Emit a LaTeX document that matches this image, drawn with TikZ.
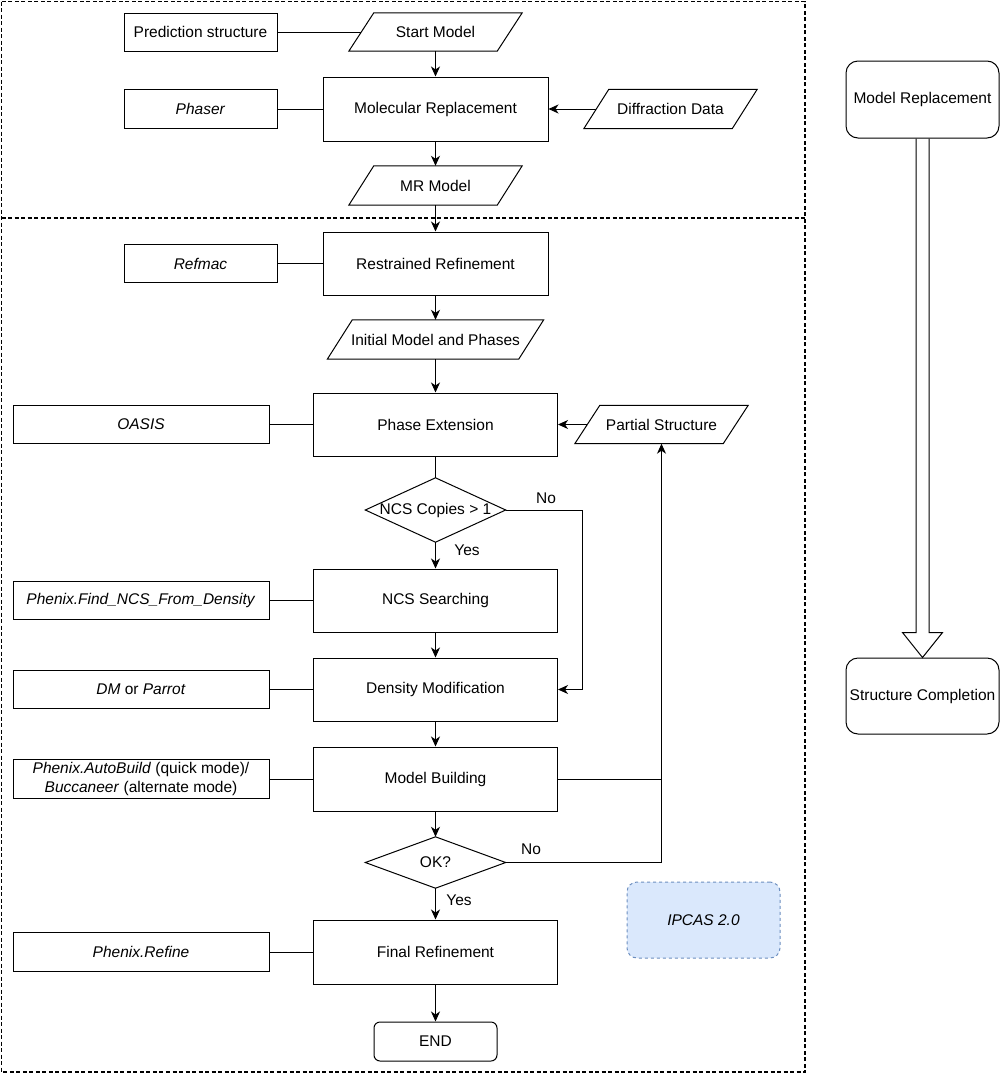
\documentclass[tikz,border=0pt]{standalone}
\usepackage{fontspec}
\setmainfont{Liberation Sans}
\usetikzlibrary{arrows.meta,calc}
\definecolor{ipfill}{HTML}{DAE8FC}
\definecolor{ipdraw}{HTML}{6C8EBF}
\begin{document}
\begin{tikzpicture}[x=1pt,y=-1pt,
  ln/.style={line width=1pt, draw=black},
  arr/.style={ln, -{Stealth[length=10pt,width=9pt,inset=3pt]}},
  txt/.style={font=\fontsize{15.5}{19}\selectfont, inner sep=0pt, align=center},
  box/.style={txt, draw, line width=1pt},
  tool/.style={box, minimum width=153pt, minimum height=38pt},
  toolw/.style={box, minimum width=256pt, minimum height=38pt},
  proc/.style={box, minimum width=225pt, minimum height=64pt},
  procw/.style={box, minimum width=244pt, minimum height=63pt},
  io/.style={txt, minimum width=173pt, minimum height=38pt},
  dec/.style={txt, minimum width=140pt},
  lab/.style={txt}
]
\useasboundingbox (0,0) rectangle (1000,1074);

% outer dashed frame
\draw[line width=1.1pt, dash pattern=on 4pt off 2.5pt] (1.5,1.5) rectangle (805,1072);
\draw[line width=1.1pt, dash pattern=on 4pt off 2.5pt] (1.5,218) -- (805,218);

% top section
\node[tool] (pred) at (200.5,32) {Prediction structure};
\node[io] (sm) at (435.5,32) {Start Model};
\node[tool, minimum height=39pt] (phaser) at (200.5,109) {\textit{Phaser}};
\node[proc] (mr) at (435.5,109) {Molecular Replacement};
\node[io, minimum height=39pt] (dd) at (670.5,109) {Diffraction Data};
\node[io, minimum height=39pt] (mrm) at (435.5,185.5) {MR Model};

% lower section
\node[tool] (refmac) at (200.5,263.5) {\textit{Refmac}};
\node[proc, minimum height=63pt] (rr) at (435.5,263.5) {Restrained Refinement};
\node[io, minimum width=216pt, minimum height=39pt] (imp) at (435.5,339.5) {Initial Model and Phases};
\node[toolw] (oasis) at (141,424.5) {\textit{OASIS}};
\node[procw] (pe) at (435.5,424.5) {Phase Extension};
\node[io] (pst) at (661.5,424.5) {Partial Structure};
\node[dec, minimum height=64pt] (ncs) at (435.5,510) {NCS Copies > 1};
\node[procw] (ncss) at (435.5,600.5) {NCS Searching};
\node[toolw] (fncs) at (141,600.5) {\textit{Phenix.Find\_NCS\_From\_Density}};
\node[procw] (dm) at (435.5,689.5) {Density Modification};
\node[toolw] (dmp) at (141,689.5) {\textit{DM} or \textit{Parrot}};
\node[procw, minimum height=64pt] (mb) at (435.5,779) {Model Building};
\node[toolw, minimum height=39pt] (ab) at (141,779) {\textit{Phenix.AutoBuild} (quick mode)/\\\textit{Buccaneer} (alternate mode)};
\node[dec, minimum height=51pt] (ok) at (435.5,862.5) {OK?};
\node[procw, minimum height=64pt] (fr) at (435.5,952) {Final Refinement};
\node[toolw, minimum height=39pt] (pr) at (141,952) {\textit{Phenix.Refine}};
\node[box, rounded corners=6pt, minimum width=123pt, minimum height=39pt] (end) at (435.5,1041.5) {END};

\node[box, draw=ipdraw, fill=ipfill, dashed, rounded corners=10pt, minimum width=153pt, minimum height=76pt] (ipcas) at (703.5,920) {\textit{IPCAS 2.0}};

% right side
\node[box, rounded corners=12pt, minimum width=153pt, minimum height=77pt] (r1) at (922.5,99.5) {Model Replacement};
\node[box, rounded corners=12pt, minimum width=153pt, minimum height=76pt] (r2) at (922.5,696) {Structure Completion};

% parallelograms
\foreach \n in {sm,dd,mrm,imp,pst}
  \draw[ln] (\n.south west) -- ([xshift=25pt]\n.north west) -- (\n.north east) -- ([xshift=-25pt]\n.south east) -- cycle;
% diamonds
\foreach \n in {ncs,ok}
  \draw[ln] (\n.west) -- (\n.north) -- (\n.east) -- (\n.south) -- cycle;

% labels
\node[lab] (no1) at (546,498) {No};
\node[lab] (yes1) at (467,550) {Yes};
\node[lab] (no2) at (531,849) {No};
\node[lab] (yes2) at (459,900) {Yes};

% connectors
\draw[ln] (pred.east) -- ([xshift=12.5pt]sm.west);
\draw[arr] (sm.south) -- (mr.north);
\draw[ln] (phaser.east) -- (mr.west);
\draw[arr] ([xshift=12.5pt]dd.west) -- (mr.east);
\draw[arr] (mr.south) -- (mrm.north);
\draw[arr] (mrm.south) -- (rr.north);
\draw[ln] (refmac.east) -- (rr.west);
\draw[arr] (rr.south) -- (imp.north);
\draw[arr] (imp.south) -- (pe.north);
\draw[ln] (oasis.east) -- (pe.west);
\draw[arr] ([xshift=12.5pt]pst.west) -- (pe.east);
\draw[ln] (pe.south) -- (ncs.north);
\draw[arr] (ncs.south) -- (ncss.north);
\coordinate (nr) at (582,510);
\draw[arr] (ncs.east) -- (nr) |- (dm.east);
\draw[ln] (fncs.east) -- (ncss.west);
\draw[arr] (ncss.south) -- (dm.north);
\draw[ln] (dmp.east) -- (dm.west);
\draw[arr] (dm.south) -- (mb.north);
\draw[ln] (ab.east) -- (mb.west);
\draw[ln] (mb.east) -- (mb.east -| pst.south);
\draw[arr] (mb.south) -- (ok.north);
\draw[arr] (ok.east) -| (pst.south);
\draw[arr] (ok.south) -- (fr.north);
\draw[ln] (pr.east) -- (fr.west);
\draw[arr] (fr.south) -- (end.north);

% hollow arrow
\draw[ln, line join=miter] ([xshift=-6.5pt]r1.south) -- ([xshift=-6.5pt,yshift=25pt]r2.north)
  -- ([xshift=-20pt,yshift=25pt]r2.north) -- (r2.north) -- ([xshift=20pt,yshift=25pt]r2.north)
  -- ([xshift=6.5pt,yshift=25pt]r2.north) -- ([xshift=6.5pt]r1.south);
\end{tikzpicture}
\end{document}
